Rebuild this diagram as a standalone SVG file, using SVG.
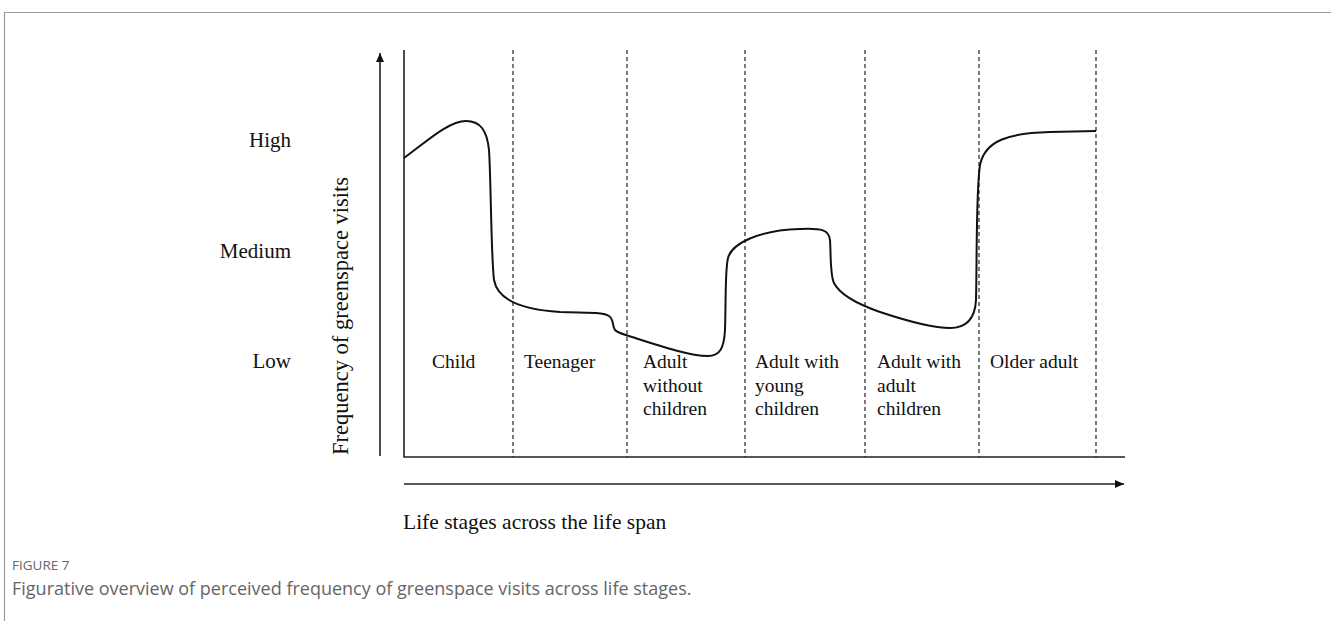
<svg xmlns="http://www.w3.org/2000/svg" width="1331" height="621" viewBox="0 0 1331 621">
<style>
.t{font-family:"Liberation Serif","Times New Roman",serif;fill:#111}
.lvl{font-size:21px;text-anchor:end}
.stage{font-size:19.5px}
.ax{stroke:#222;stroke-width:1.6;fill:none}
.dash{stroke:#222;stroke-width:1.2;stroke-dasharray:4 3;fill:none}
.cap{font-family:"Open Sans","Noto Sans",sans-serif;fill:#666}
</style>
<defs>
<marker id="ah" markerWidth="10" markerHeight="10" refX="9" refY="4" orient="auto" markerUnits="userSpaceOnUse">
<path d="M0,0 L9,4 L0,8 Z" fill="#111"/>
</marker>
</defs>
<rect width="1331" height="621" fill="#fff"/>
<path d="M4.5,621 V12.5 H1331" stroke="#9a9a9a" stroke-width="1.2" fill="none"/>
<g id="connectors">
<line class="ax" x1="380" y1="456" x2="380" y2="53" marker-end="url(#ah)"/>
<line class="ax" x1="404" y1="484" x2="1124" y2="484" marker-end="url(#ah)"/>
<path class="ax" d="M404,50 V457 H1125"/>
<line class="dash" x1="513" y1="50" x2="513" y2="457"/>
<line class="dash" x1="627" y1="50" x2="627" y2="457"/>
<line class="dash" x1="745" y1="50" x2="745" y2="457"/>
<line class="dash" x1="865" y1="50" x2="865" y2="457"/>
<line class="dash" x1="979" y1="50" x2="979" y2="457"/>
<line class="dash" x1="1096" y1="50" x2="1096" y2="457"/>
<path id="curve" fill="none" stroke="#111" stroke-width="2" d="M404,158 C425,143 448,121 466,121 C480,121 487,130 489,150 C491,180 491,255 494,280 C498,302 525,310 560,312 C590,313 603,312 609,316 C614,319 612,326 615,330 C618,333 625,335 632,337 C660,346 690,356 708,356 C720,356 724,348 725,330 C726,300 725,270 728,258 C732,243 760,230 800,229 C822,228 829,230 830,240 C831,255 830,275 834,283 C840,295 860,305 880,312 C910,322 935,328 950,328 C965,328 975,320 976,300 C977,260 976,190 980,165 C985,140 1010,133 1050,132 L1096,131"/>
</g>
<g id="levels">
<text class="t lvl" x="291" y="147">High</text>
<text class="t lvl" x="291" y="258">Medium</text>
<text class="t lvl" x="291" y="368">Low</text>
<text class="t" font-size="22.5" text-anchor="middle" transform="translate(348,316) rotate(-90)">Frequency of greenspace visits</text>
</g>
<g id="stage-child"><text class="t stage" x="432" y="368">Child</text></g>
<g id="stage-teen"><text class="t stage" x="524" y="368">Teenager</text></g>
<g id="stage-adult-no"><text class="t stage" x="643" y="368">Adult<tspan x="643" y="392">without</tspan><tspan x="643" y="415">children</tspan></text></g>
<g id="stage-adult-young"><text class="t stage" x="755" y="368">Adult with<tspan x="755" y="392">young</tspan><tspan x="755" y="415">children</tspan></text></g>
<g id="stage-adult-adult"><text class="t stage" x="877" y="368">Adult with<tspan x="877" y="392">adult</tspan><tspan x="877" y="415">children</tspan></text></g>
<g id="stage-older"><text class="t stage" x="990" y="368">Older adult</text></g>
<g id="xlabel"><text class="t" font-size="21.5" x="403" y="529">Life stages across the life span</text></g>
<g id="caption">
<text class="cap" font-size="13.5" x="12" y="570">FIGURE 7</text>
<text class="cap" font-size="18" x="12" y="595">Figurative overview of perceived frequency of greenspace visits across life stages.</text>
</g>
</svg>
